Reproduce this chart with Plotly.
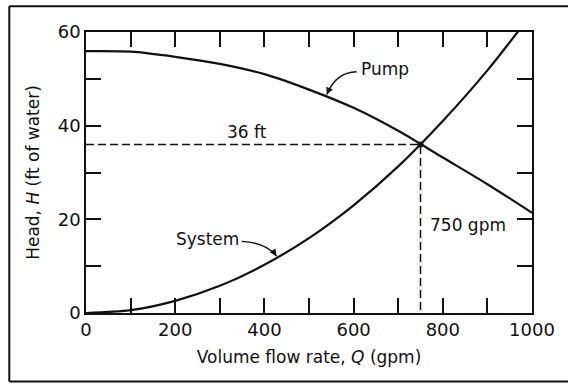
import numpy as np
import plotly.graph_objects as go

# Flow rate grid (gpm) and heads (ft of water)
flow_q = [0, 100, 200, 300, 400, 500, 600, 700, 800, 900, 1000]
pump_head = [55.9, 55.8, 54.7, 53.2, 51.0, 47.7, 43.8, 38.9, 33.2, 27.5, 21.4]
system_head = [0.0, 0.6, 2.6, 5.8, 10.3, 16.0, 23.0, 31.3, 41.0, 51.8, 64.0]

# Operating point
op_q = 750
op_h = 36

# Axis ticks
x_tick_vals = list(range(0, 1001, 100))
x_tick_text = ["0", "", "200", "", "400", "", "600", "", "800", "", "1000"]
y_tick_vals = list(range(0, 61, 10))
y_tick_text = ["0", "", "20", "", "40", "", "60"]

FONT = "DejaVu Sans"
INK = "#111111"

fig = go.Figure()

for heads in (pump_head, system_head):
    fig.add_trace(go.Scatter(
        x=flow_q, y=heads, mode="lines",
        line=dict(color=INK, width=2.2, shape="spline", smoothing=0.8),
        showlegend=False, hoverinfo="skip",
    ))

# Dashed guides to the operating point
fig.add_trace(go.Scatter(
    x=[0, op_q, op_q], y=[op_h, op_h, 0], mode="lines",
    line=dict(color=INK, width=1.5, dash="8px,4px"),
    showlegend=False, hoverinfo="skip",
))
fig.add_trace(go.Scatter(
    x=[op_q], y=[op_h], mode="markers",
    marker=dict(color=INK, size=6),
    showlegend=False, hoverinfo="skip",
))

text_font = dict(family=FONT, size=17, color=INK)

fig.add_annotation(x=361, y=38.6, text="36 ft", showarrow=False, font=text_font)
fig.add_annotation(x=767, y=18.7, text="750 gpm", showarrow=False,
                   xanchor="left", font=text_font)
fig.add_annotation(x=671, y=52.2, text="Pump", showarrow=False, font=text_font)
fig.add_annotation(x=272, y=15.8, text="System", showarrow=False, font=text_font)

# Curved leader arrows from the labels onto the curves
pump_tip_q = 540
pump_tip_h = float(np.interp(pump_tip_q, flow_q, pump_head)) + 0.5
sys_tip_q = 427
sys_tip_h = float(np.interp(sys_tip_q, flow_q, system_head)) + 0.3

fig.add_shape(type="path",
              path=f"M 607,51.5 Q 560,51.4 {pump_tip_q},{pump_tip_h}",
              line=dict(color=INK, width=1.4))
fig.add_shape(type="path",
              path=f"M 349,15.3 Q 405,15.0 {sys_tip_q},{sys_tip_h}",
              line=dict(color=INK, width=1.4))
fig.add_annotation(x=pump_tip_q, y=pump_tip_h, ax=3, ay=-7, text="",
                   showarrow=True, arrowhead=2, arrowsize=1, arrowwidth=1.4,
                   arrowcolor=INK, standoff=0)
fig.add_annotation(x=sys_tip_q, y=sys_tip_h, ax=-4, ay=-6, text="",
                   showarrow=True, arrowhead=2, arrowsize=1, arrowwidth=1.4,
                   arrowcolor=INK, standoff=0)

# Outer frame: top, bottom and left rules up to the right edge of the page
frame = dict(color=INK, width=2)
right_edge = 1.0 + 36 / 446
for x0, y0, x1, y1 in [(-0.172, 1.092, right_edge, 1.092),
                       (-0.172, -0.244, right_edge, -0.244),
                       (-0.172, -0.244, -0.172, 1.092)]:
    fig.add_shape(type="line", xref="paper", yref="paper",
                  x0=x0, y0=y0, x1=x1, y1=y1, line=frame, layer="below")

axis_common = dict(
    ticks="inside", ticklen=15, tickwidth=1.5, tickcolor=INK,
    showline=True, linewidth=1.5, linecolor=INK, mirror="ticks",
    showgrid=False, zeroline=False,
    tickfont=dict(family=FONT, size=18, color=INK),
)

fig.update_layout(
    width=568, height=385,
    margin=dict(l=86, r=36, t=32, b=72),
    paper_bgcolor="white", plot_bgcolor="white",
    xaxis=dict(range=[0, 1000], tickmode="array", tickvals=x_tick_vals,
               ticktext=x_tick_text,
               title=dict(text="Volume flow rate, <i>Q</i> (gpm)",
                          font=text_font, standoff=12),
               **axis_common),
    yaxis=dict(range=[0, 60], tickmode="array", tickvals=y_tick_vals,
               ticktext=y_tick_text,
               title=dict(text="Head, <i>H</i> (ft of water)",
                          font=text_font, standoff=14),
               **axis_common),
)

fig.write_html("out.html")
